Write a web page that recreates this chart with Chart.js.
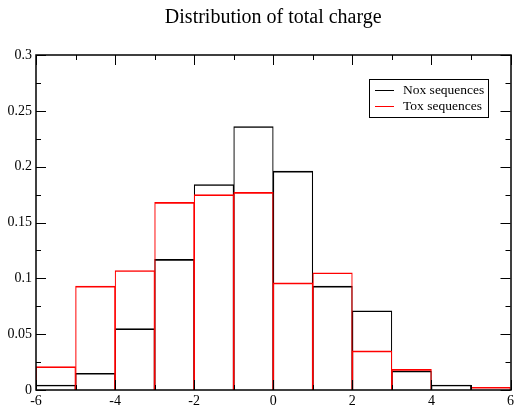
<!DOCTYPE html>
<html lang="en">
<head>
  <meta charset="UTF-8">
  <title>Distribution of total charge</title>
  <script src="https://cdn.jsdelivr.net/npm/chart.js"></script>
  <style>
    html, body { margin: 0; padding: 0; background: #fff; }
    #wrap { width: 517px; height: 411px; }
  </style>
</head>
<body>
  <div id="wrap"><canvas id="chargeChart" width="517" height="411"></canvas></div>
  <script>
    // bin centres (bins of width 1 from -6 to 6)
    const binCenters = [-5.5, -4.5, -3.5, -2.5, -1.5, -0.5, 0.5, 1.5, 2.5, 3.5, 4.5, 5.5];
    const noxValues = [0.0045, 0.015, 0.055, 0.117, 0.184, 0.236, 0.196, 0.093, 0.071, 0.017, 0.0045, 0];
    const toxValues = [0.021, 0.093, 0.107, 0.168, 0.175, 0.177, 0.096, 0.105, 0.035, 0.0185, 0, 0.0025];
    const seriesNames = ['Nox sequences', 'Tox sequences'];
    const seriesColors = ['#000000', '#ff0000'];
    const xMinorStep = 1, xMajorStep = 2;
    const yMinorStep = 0.025, yMajorStep = 0.05;

    const FONT = 'Liberation Serif';

    // inward ticks on all four sides, frame and legend box
    const framePlugin = {
      id: 'frame',
      afterDatasetsDraw(chart) {
        const { ctx, chartArea: a, scales: { x, y } } = chart;
        ctx.save();
        ctx.strokeStyle = '#000';
        ctx.lineWidth = 1;
        ctx.beginPath();
        for (let v = x.min; v <= x.max + 1e-9; v += xMinorStep) {
          const px = Math.round(x.getPixelForValue(v)) + 0.5;
          const len = Math.abs(v % xMajorStep) < 1e-9 ? 10 : 5;
          ctx.moveTo(px, a.bottom); ctx.lineTo(px, a.bottom - len);
          ctx.moveTo(px, a.top); ctx.lineTo(px, a.top + len);
        }
        for (let v = y.min; v <= y.max + 1e-9; v += yMinorStep) {
          const py = Math.round(y.getPixelForValue(v)) + 0.5;
          const r = v / yMajorStep;
          const len = Math.abs(r - Math.round(r)) < 1e-6 ? 10 : 5;
          ctx.moveTo(a.left, py); ctx.lineTo(a.left + len, py);
          ctx.moveTo(a.right, py); ctx.lineTo(a.right - len, py);
        }
        ctx.stroke();
        ctx.lineWidth = 1.5;
        ctx.strokeRect(Math.round(a.left), Math.round(a.top), Math.round(a.right - a.left), Math.round(a.bottom - a.top));

        // legend
        const lx = 369.5, ly = 79.5, lw = 119, lh = 38;
        ctx.lineWidth = 1;
        ctx.strokeStyle = '#000';
        ctx.strokeRect(lx, ly, lw, lh);
        ctx.font = '13.5px "' + FONT + '"';
        ctx.textBaseline = 'middle';
        ctx.fillStyle = '#000';
        seriesNames.forEach((name, i) => {
          const cy = Math.round(ly + 10 + i * 16.5) + 0.5;
          ctx.strokeStyle = seriesColors[i];
          ctx.beginPath();
          ctx.moveTo(375, cy); ctx.lineTo(394, cy);
          ctx.stroke();
          ctx.fillText(name, 403, cy);
        });
        ctx.restore();
      }
    };

    const barBorder = { top: 1, left: 0.5, right: 0.5, bottom: 0 };

    new Chart(document.getElementById('chargeChart').getContext('2d'), {
      type: 'bar',
      data: {
        labels: binCenters,
        datasets: [
          {
            label: seriesNames[0],
            data: binCenters.map((c, i) => ({ x: c, y: noxValues[i] })),
            borderColor: seriesColors[0],
            backgroundColor: 'rgba(0,0,0,0)',
            borderWidth: barBorder,
            borderSkipped: 'start',
            order: 1
          },
          {
            label: seriesNames[1],
            data: binCenters.map((c, i) => ({ x: c, y: toxValues[i] })),
            borderColor: seriesColors[1],
            backgroundColor: 'rgba(0,0,0,0)',
            borderWidth: barBorder,
            borderSkipped: 'start',
            order: 0
          }
        ]
      },
      options: {
        responsive: false,
        animation: false,
        grouped: false,
        barPercentage: 1,
        categoryPercentage: 1,
        layout: { padding: { left: 0, right: 4, top: 0, bottom: 0 } },
        plugins: {
          legend: { display: false },
          tooltip: { enabled: false },
          title: {
            display: true,
            fullSize: false,
            text: 'Distribution of total charge',
            color: '#000',
            font: { family: FONT, size: 20, weight: 'normal' },
            padding: { top: 6, bottom: 25 }
          }
        },
        scales: {
          x: {
            type: 'linear',
            min: -6,
            max: 6,
            offset: false,
            grid: { display: false, drawTicks: false },
            border: { display: false },
            ticks: {
              stepSize: xMajorStep,
              color: '#000',
              padding: 3,
              maxRotation: 0,
              font: { family: FONT, size: 14 }
            },
            afterFit(scale) { scale.height = 21; }
          },
          y: {
            min: 0,
            max: 0.3,
            grid: { display: false, drawTicks: false },
            border: { display: false },
            ticks: {
              stepSize: yMajorStep,
              color: '#000',
              padding: 4,
              font: { family: FONT, size: 14 },
              callback: v => String(parseFloat(v.toFixed(3)))
            },
            afterFit(scale) { scale.width = 36; }
          }
        }
      },
      plugins: [framePlugin]
    });
  </script>
</body>
</html>
